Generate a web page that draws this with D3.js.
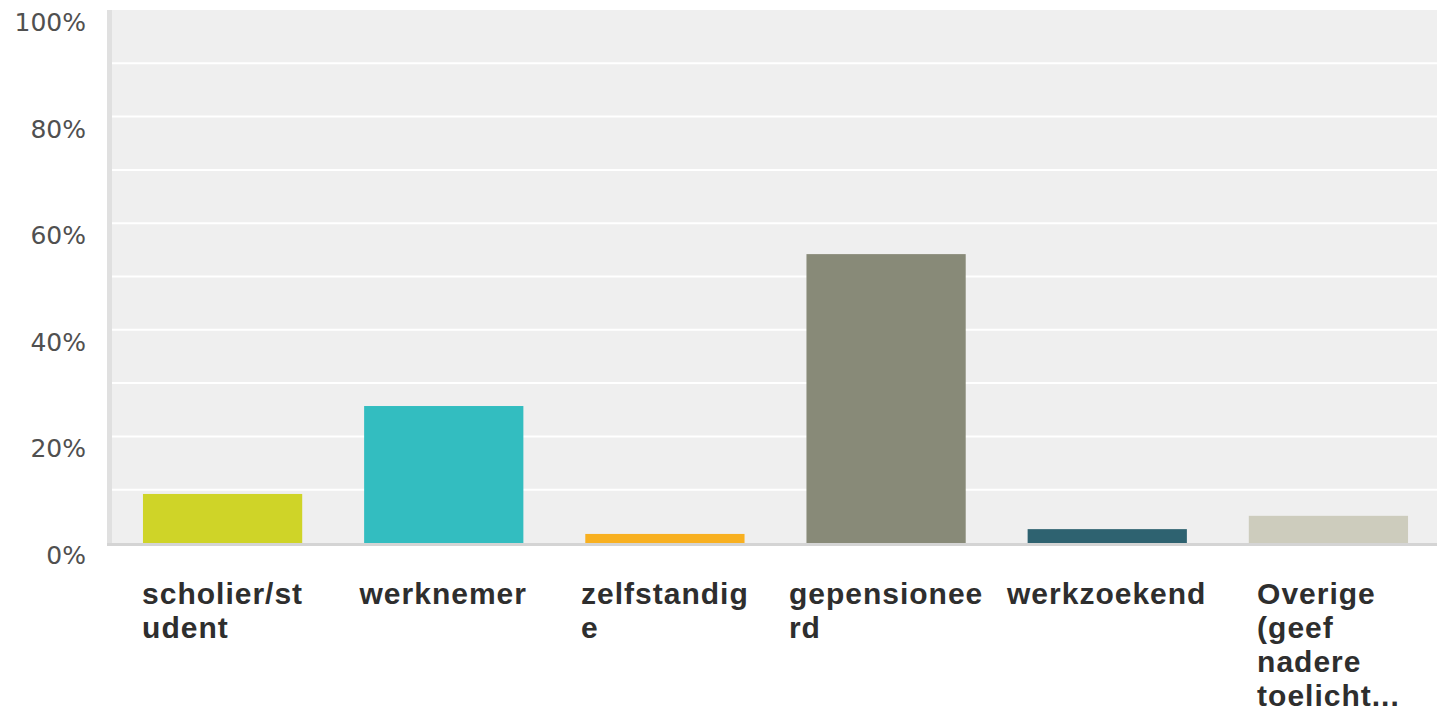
<!DOCTYPE html>
<html>
<head>
<meta charset="utf-8">
<style>
  body { margin: 0; background: #fff; }
  .ytick { font-family: "DejaVu Sans", Verdana, sans-serif; font-size: 25px; fill: #505050; }
  .xlab { font-family: "Liberation Sans", Arial, sans-serif; font-size: 30px; font-weight: bold; fill: #2e2e2e; letter-spacing: 1px; }
</style>
<script src="https://d3js.org/d3.v7.min.js"></script>
</head>
<body>
<svg id="chart" width="1437" height="711"></svg>
<script>
  // data
  var categories = ["scholier/student", "werknemer", "zelfstandige", "gepensioneerd", "werkzoekend", "Overige (geef nadere toelichting)"];
  var labelLines = [["scholier/st", "udent"], ["werknemer"], ["zelfstandig", "e"], ["gepensionee", "rd"], ["werkzoekend"], ["Overige", "(geef", "nadere", "toelicht..."]];
  var values = [9.2, 25.7, 1.7, 54.2, 2.6, 5.1];
  var colors = ["#cfd428", "#33bdc0", "#f8b020", "#888a78", "#2e6270", "#cdccbd"];
  var yTicks = [0, 20, 40, 60, 80, 100];
  var gridTicks = [10, 20, 30, 40, 50, 60, 70, 80, 90];

  var svg = d3.select("#chart");
  var plotLeft = 112, plotRight = 1439, plotTop = 10, plotBottom = 543;

  var x = d3.scaleBand().domain(categories).range([plotLeft, plotRight]).paddingInner(0.28).paddingOuter(0.14);
  var y = d3.scaleLinear().domain([0, 100]).range([plotBottom, plotTop]);

  // plot background
  svg.append("rect").attr("x", plotLeft).attr("y", plotTop).attr("width", plotRight - plotLeft).attr("height", plotBottom - plotTop).attr("fill", "#efefef");
  svg.append("rect").attr("x", plotLeft - 5).attr("y", plotTop).attr("width", 5).attr("height", plotBottom - plotTop + 3).attr("fill", "#e0e0e0");

  // gridlines
  svg.selectAll(".grid").data(gridTicks).enter().append("line")
    .attr("x1", plotLeft).attr("x2", plotRight)
    .attr("y1", function (d) { return y(d); }).attr("y2", function (d) { return y(d); })
    .attr("stroke", "#fff").attr("stroke-width", 2);

  // bars
  svg.selectAll(".bar").data(values).enter().append("rect")
    .attr("x", function (d, i) { return x(categories[i]); })
    .attr("y", function (d) { return y(d); })
    .attr("width", x.bandwidth())
    .attr("height", function (d) { return y(0) - y(d); })
    .attr("fill", function (d, i) { return colors[i]; });

  // bottom axis line
  svg.append("rect").attr("x", plotLeft - 5).attr("y", plotBottom).attr("width", plotRight - plotLeft + 5).attr("height", 3).attr("fill", "#d4d4d4");

  // y labels
  svg.selectAll(".ytick").data(yTicks).enter().append("text")
    .attr("class", "ytick")
    .attr("x", 86)
    .attr("y", function (d) { return y(d) + 21; })
    .attr("text-anchor", "end")
    .text(function (d) { return d + "%"; });

  // category labels: left-aligned block centred under each bar
  labelLines.forEach(function (lines, i) {
    var g = svg.append("g");
    var t = g.append("text").attr("class", "xlab");
    lines.forEach(function (s, j) {
      t.append("tspan").attr("x", 0).attr("y", 604 + j * 34).text(s);
    });
    var w = t.node().getBBox().width;
    var cx = x(categories[i]) + x.bandwidth() / 2;
    g.attr("transform", "translate(" + (cx - w / 2) + ",0)");
  });
</script>
</body>
</html>
